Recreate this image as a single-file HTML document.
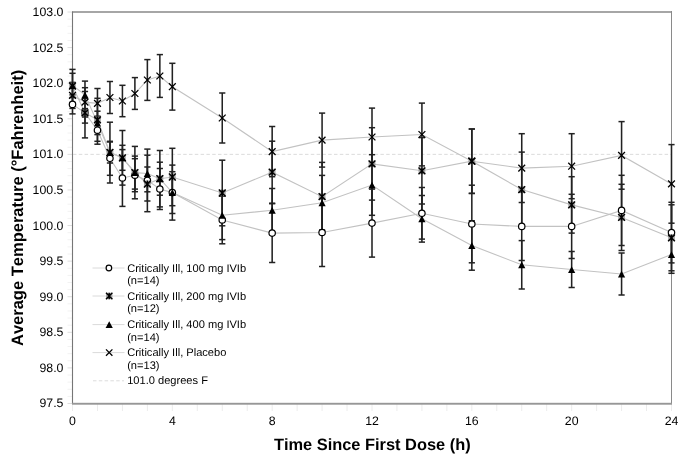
<!DOCTYPE html>
<html><head><meta charset="utf-8"><style>
html,body{margin:0;padding:0;background:#fff;width:685px;height:460px;overflow:hidden}
svg{display:block;will-change:transform}
text{font-family:"Liberation Sans",sans-serif;fill:#000;font-kerning:none;white-space:pre;text-rendering:geometricPrecision}
.tk{font-size:12.3px}
.lg{font-size:11.1px}
.ti{font-size:16.4px;font-weight:bold}
.tiy{font-size:16.5px;font-weight:bold}
</style></head><body>
<svg width="685" height="460" viewBox="0 0 685 460">
<rect width="685" height="460" fill="#fff"/>
<line x1="67.5" y1="403.49" x2="72" y2="403.49" stroke="#dedede" stroke-width="1"/>
<line x1="67.5" y1="396.37" x2="72" y2="396.37" stroke="#f2f2f2" stroke-width="1"/>
<line x1="67.5" y1="389.25" x2="72" y2="389.25" stroke="#f2f2f2" stroke-width="1"/>
<line x1="67.5" y1="382.14" x2="72" y2="382.14" stroke="#f2f2f2" stroke-width="1"/>
<line x1="67.5" y1="375.02" x2="72" y2="375.02" stroke="#f2f2f2" stroke-width="1"/>
<line x1="67.5" y1="367.90" x2="72" y2="367.90" stroke="#dedede" stroke-width="1"/>
<line x1="67.5" y1="360.78" x2="72" y2="360.78" stroke="#f2f2f2" stroke-width="1"/>
<line x1="67.5" y1="353.66" x2="72" y2="353.66" stroke="#f2f2f2" stroke-width="1"/>
<line x1="67.5" y1="346.55" x2="72" y2="346.55" stroke="#f2f2f2" stroke-width="1"/>
<line x1="67.5" y1="339.43" x2="72" y2="339.43" stroke="#f2f2f2" stroke-width="1"/>
<line x1="67.5" y1="332.31" x2="72" y2="332.31" stroke="#dedede" stroke-width="1"/>
<line x1="67.5" y1="325.19" x2="72" y2="325.19" stroke="#f2f2f2" stroke-width="1"/>
<line x1="67.5" y1="318.07" x2="72" y2="318.07" stroke="#f2f2f2" stroke-width="1"/>
<line x1="67.5" y1="310.96" x2="72" y2="310.96" stroke="#f2f2f2" stroke-width="1"/>
<line x1="67.5" y1="303.84" x2="72" y2="303.84" stroke="#f2f2f2" stroke-width="1"/>
<line x1="67.5" y1="296.72" x2="72" y2="296.72" stroke="#dedede" stroke-width="1"/>
<line x1="67.5" y1="289.60" x2="72" y2="289.60" stroke="#f2f2f2" stroke-width="1"/>
<line x1="67.5" y1="282.48" x2="72" y2="282.48" stroke="#f2f2f2" stroke-width="1"/>
<line x1="67.5" y1="275.37" x2="72" y2="275.37" stroke="#f2f2f2" stroke-width="1"/>
<line x1="67.5" y1="268.25" x2="72" y2="268.25" stroke="#f2f2f2" stroke-width="1"/>
<line x1="67.5" y1="261.13" x2="72" y2="261.13" stroke="#dedede" stroke-width="1"/>
<line x1="67.5" y1="254.01" x2="72" y2="254.01" stroke="#f2f2f2" stroke-width="1"/>
<line x1="67.5" y1="246.89" x2="72" y2="246.89" stroke="#f2f2f2" stroke-width="1"/>
<line x1="67.5" y1="239.78" x2="72" y2="239.78" stroke="#f2f2f2" stroke-width="1"/>
<line x1="67.5" y1="232.66" x2="72" y2="232.66" stroke="#f2f2f2" stroke-width="1"/>
<line x1="67.5" y1="225.54" x2="72" y2="225.54" stroke="#dedede" stroke-width="1"/>
<line x1="67.5" y1="218.42" x2="72" y2="218.42" stroke="#f2f2f2" stroke-width="1"/>
<line x1="67.5" y1="211.30" x2="72" y2="211.30" stroke="#f2f2f2" stroke-width="1"/>
<line x1="67.5" y1="204.19" x2="72" y2="204.19" stroke="#f2f2f2" stroke-width="1"/>
<line x1="67.5" y1="197.07" x2="72" y2="197.07" stroke="#f2f2f2" stroke-width="1"/>
<line x1="67.5" y1="189.95" x2="72" y2="189.95" stroke="#dedede" stroke-width="1"/>
<line x1="67.5" y1="182.83" x2="72" y2="182.83" stroke="#f2f2f2" stroke-width="1"/>
<line x1="67.5" y1="175.71" x2="72" y2="175.71" stroke="#f2f2f2" stroke-width="1"/>
<line x1="67.5" y1="168.60" x2="72" y2="168.60" stroke="#f2f2f2" stroke-width="1"/>
<line x1="67.5" y1="161.48" x2="72" y2="161.48" stroke="#f2f2f2" stroke-width="1"/>
<line x1="67.5" y1="154.36" x2="72" y2="154.36" stroke="#dedede" stroke-width="1"/>
<line x1="67.5" y1="147.24" x2="72" y2="147.24" stroke="#f2f2f2" stroke-width="1"/>
<line x1="67.5" y1="140.12" x2="72" y2="140.12" stroke="#f2f2f2" stroke-width="1"/>
<line x1="67.5" y1="133.01" x2="72" y2="133.01" stroke="#f2f2f2" stroke-width="1"/>
<line x1="67.5" y1="125.89" x2="72" y2="125.89" stroke="#f2f2f2" stroke-width="1"/>
<line x1="67.5" y1="118.77" x2="72" y2="118.77" stroke="#dedede" stroke-width="1"/>
<line x1="67.5" y1="111.65" x2="72" y2="111.65" stroke="#f2f2f2" stroke-width="1"/>
<line x1="67.5" y1="104.53" x2="72" y2="104.53" stroke="#f2f2f2" stroke-width="1"/>
<line x1="67.5" y1="97.42" x2="72" y2="97.42" stroke="#f2f2f2" stroke-width="1"/>
<line x1="67.5" y1="90.30" x2="72" y2="90.30" stroke="#f2f2f2" stroke-width="1"/>
<line x1="67.5" y1="83.18" x2="72" y2="83.18" stroke="#dedede" stroke-width="1"/>
<line x1="67.5" y1="76.06" x2="72" y2="76.06" stroke="#f2f2f2" stroke-width="1"/>
<line x1="67.5" y1="68.94" x2="72" y2="68.94" stroke="#f2f2f2" stroke-width="1"/>
<line x1="67.5" y1="61.83" x2="72" y2="61.83" stroke="#f2f2f2" stroke-width="1"/>
<line x1="67.5" y1="54.71" x2="72" y2="54.71" stroke="#f2f2f2" stroke-width="1"/>
<line x1="67.5" y1="47.59" x2="72" y2="47.59" stroke="#dedede" stroke-width="1"/>
<line x1="67.5" y1="40.47" x2="72" y2="40.47" stroke="#f2f2f2" stroke-width="1"/>
<line x1="67.5" y1="33.35" x2="72" y2="33.35" stroke="#f2f2f2" stroke-width="1"/>
<line x1="67.5" y1="26.24" x2="72" y2="26.24" stroke="#f2f2f2" stroke-width="1"/>
<line x1="67.5" y1="19.12" x2="72" y2="19.12" stroke="#f2f2f2" stroke-width="1"/>
<line x1="67.5" y1="12.00" x2="72" y2="12.00" stroke="#dedede" stroke-width="1"/>
<line x1="72.50" y1="404" x2="72.50" y2="411" stroke="#ececec" stroke-width="1"/>
<line x1="97.46" y1="404" x2="97.46" y2="411" stroke="#ececec" stroke-width="1"/>
<line x1="122.42" y1="404" x2="122.42" y2="411" stroke="#ececec" stroke-width="1"/>
<line x1="147.37" y1="404" x2="147.37" y2="411" stroke="#ececec" stroke-width="1"/>
<line x1="172.33" y1="404" x2="172.33" y2="411" stroke="#ececec" stroke-width="1"/>
<line x1="197.29" y1="404" x2="197.29" y2="411" stroke="#ececec" stroke-width="1"/>
<line x1="222.25" y1="404" x2="222.25" y2="411" stroke="#ececec" stroke-width="1"/>
<line x1="247.21" y1="404" x2="247.21" y2="411" stroke="#ececec" stroke-width="1"/>
<line x1="272.16" y1="404" x2="272.16" y2="411" stroke="#ececec" stroke-width="1"/>
<line x1="297.12" y1="404" x2="297.12" y2="411" stroke="#ececec" stroke-width="1"/>
<line x1="322.08" y1="404" x2="322.08" y2="411" stroke="#ececec" stroke-width="1"/>
<line x1="347.04" y1="404" x2="347.04" y2="411" stroke="#ececec" stroke-width="1"/>
<line x1="372.00" y1="404" x2="372.00" y2="411" stroke="#ececec" stroke-width="1"/>
<line x1="396.95" y1="404" x2="396.95" y2="411" stroke="#ececec" stroke-width="1"/>
<line x1="421.91" y1="404" x2="421.91" y2="411" stroke="#ececec" stroke-width="1"/>
<line x1="446.87" y1="404" x2="446.87" y2="411" stroke="#ececec" stroke-width="1"/>
<line x1="471.83" y1="404" x2="471.83" y2="411" stroke="#ececec" stroke-width="1"/>
<line x1="496.79" y1="404" x2="496.79" y2="411" stroke="#ececec" stroke-width="1"/>
<line x1="521.74" y1="404" x2="521.74" y2="411" stroke="#ececec" stroke-width="1"/>
<line x1="546.70" y1="404" x2="546.70" y2="411" stroke="#ececec" stroke-width="1"/>
<line x1="571.66" y1="404" x2="571.66" y2="411" stroke="#ececec" stroke-width="1"/>
<line x1="596.62" y1="404" x2="596.62" y2="411" stroke="#ececec" stroke-width="1"/>
<line x1="621.58" y1="404" x2="621.58" y2="411" stroke="#ececec" stroke-width="1"/>
<line x1="646.53" y1="404" x2="646.53" y2="411" stroke="#ececec" stroke-width="1"/>
<line x1="671.49" y1="404" x2="671.49" y2="411" stroke="#ececec" stroke-width="1"/>
<rect x="72" y="11" width="600" height="2" fill="#a6a6a6"/>
<rect x="671" y="11" width="1" height="393" fill="#8a8a8a"/>
<line x1="72.5" y1="11.5" x2="72.5" y2="404" stroke="#767676" stroke-width="1.1"/>
<rect x="72" y="402.8" width="600" height="1.9" fill="#979797"/>
<line x1="73" y1="154.36" x2="671" y2="154.36" stroke="#dcdcdc" stroke-width="1" stroke-dasharray="3.5,2.3"/>
<polyline points="72.50,104.40 84.98,112.80 97.46,130.20 109.94,158.30 122.42,178.00 134.89,175.20 147.37,180.40 159.85,189.00 172.33,192.60 222.25,220.00 272.16,233.10 322.08,232.50 372.00,223.10 421.91,213.30 471.83,224.00 521.74,226.40 571.66,226.40 621.58,210.40 671.49,232.60" fill="none" stroke="#c2c2c2" stroke-width="1.1"/>
<polyline points="72.50,86.00 84.98,112.80 97.46,119.80 109.94,152.50 122.42,157.80 134.89,172.60 147.37,184.00 159.85,178.70 172.33,177.00 222.25,193.00 272.16,172.20 322.08,196.70 372.00,163.90 421.91,170.80 471.83,161.20 521.74,189.60 571.66,204.90 621.58,217.40 671.49,237.80" fill="none" stroke="#c2c2c2" stroke-width="1.1"/>
<polyline points="72.50,85.40 84.98,94.90 97.46,122.90 109.94,152.60 122.42,157.80 134.89,172.60 147.37,173.50 159.85,178.70 172.33,192.60 222.25,215.20 272.16,210.30 322.08,202.70 372.00,185.00 421.91,218.80 471.83,245.50 521.74,264.80 571.66,269.50 621.58,274.00 671.49,254.50" fill="none" stroke="#c2c2c2" stroke-width="1.1"/>
<polyline points="72.50,95.40 84.98,102.10 97.46,103.40 109.94,97.50 122.42,101.00 134.89,93.50 147.37,80.00 159.85,76.00 172.33,86.70 222.25,118.00 272.16,151.60 322.08,140.10 372.00,137.00 421.91,134.50 471.83,161.20 521.74,168.10 571.66,166.20 621.58,155.40 671.49,183.90" fill="none" stroke="#c2c2c2" stroke-width="1.1"/>
<line x1="72.50" y1="94.90" x2="72.50" y2="113.90" stroke="#222" stroke-width="1.55"/>
<line x1="69.40" y1="94.90" x2="75.60" y2="94.90" stroke="#222" stroke-width="1.5"/>
<line x1="69.40" y1="113.90" x2="75.60" y2="113.90" stroke="#222" stroke-width="1.5"/>
<line x1="84.98" y1="108.60" x2="84.98" y2="117.00" stroke="#222" stroke-width="1.55"/>
<line x1="81.88" y1="108.60" x2="88.08" y2="108.60" stroke="#222" stroke-width="1.5"/>
<line x1="81.88" y1="117.00" x2="88.08" y2="117.00" stroke="#222" stroke-width="1.5"/>
<line x1="97.46" y1="116.20" x2="97.46" y2="144.20" stroke="#222" stroke-width="1.55"/>
<line x1="94.36" y1="116.20" x2="100.56" y2="116.20" stroke="#222" stroke-width="1.5"/>
<line x1="94.36" y1="144.20" x2="100.56" y2="144.20" stroke="#222" stroke-width="1.5"/>
<line x1="109.94" y1="141.30" x2="109.94" y2="175.30" stroke="#222" stroke-width="1.55"/>
<line x1="106.84" y1="141.30" x2="113.04" y2="141.30" stroke="#222" stroke-width="1.5"/>
<line x1="106.84" y1="175.30" x2="113.04" y2="175.30" stroke="#222" stroke-width="1.5"/>
<line x1="122.42" y1="149.60" x2="122.42" y2="206.40" stroke="#222" stroke-width="1.55"/>
<line x1="119.32" y1="149.60" x2="125.52" y2="149.60" stroke="#222" stroke-width="1.5"/>
<line x1="119.32" y1="206.40" x2="125.52" y2="206.40" stroke="#222" stroke-width="1.5"/>
<line x1="134.89" y1="158.70" x2="134.89" y2="191.70" stroke="#222" stroke-width="1.55"/>
<line x1="131.79" y1="158.70" x2="137.99" y2="158.70" stroke="#222" stroke-width="1.5"/>
<line x1="131.79" y1="191.70" x2="137.99" y2="191.70" stroke="#222" stroke-width="1.5"/>
<line x1="147.37" y1="149.10" x2="147.37" y2="211.70" stroke="#222" stroke-width="1.55"/>
<line x1="144.27" y1="149.10" x2="150.47" y2="149.10" stroke="#222" stroke-width="1.5"/>
<line x1="144.27" y1="211.70" x2="150.47" y2="211.70" stroke="#222" stroke-width="1.5"/>
<line x1="159.85" y1="168.50" x2="159.85" y2="209.50" stroke="#222" stroke-width="1.55"/>
<line x1="156.75" y1="168.50" x2="162.95" y2="168.50" stroke="#222" stroke-width="1.5"/>
<line x1="156.75" y1="209.50" x2="162.95" y2="209.50" stroke="#222" stroke-width="1.5"/>
<line x1="172.33" y1="165.10" x2="172.33" y2="220.10" stroke="#222" stroke-width="1.55"/>
<line x1="169.23" y1="165.10" x2="175.43" y2="165.10" stroke="#222" stroke-width="1.5"/>
<line x1="169.23" y1="220.10" x2="175.43" y2="220.10" stroke="#222" stroke-width="1.5"/>
<line x1="222.25" y1="196.20" x2="222.25" y2="243.80" stroke="#222" stroke-width="1.55"/>
<line x1="219.15" y1="196.20" x2="225.35" y2="196.20" stroke="#222" stroke-width="1.5"/>
<line x1="219.15" y1="243.80" x2="225.35" y2="243.80" stroke="#222" stroke-width="1.5"/>
<line x1="272.16" y1="203.70" x2="272.16" y2="262.50" stroke="#222" stroke-width="1.55"/>
<line x1="269.06" y1="203.70" x2="275.26" y2="203.70" stroke="#222" stroke-width="1.5"/>
<line x1="269.06" y1="262.50" x2="275.26" y2="262.50" stroke="#222" stroke-width="1.5"/>
<line x1="322.08" y1="198.50" x2="322.08" y2="266.50" stroke="#222" stroke-width="1.55"/>
<line x1="318.98" y1="198.50" x2="325.18" y2="198.50" stroke="#222" stroke-width="1.5"/>
<line x1="318.98" y1="266.50" x2="325.18" y2="266.50" stroke="#222" stroke-width="1.5"/>
<line x1="372.00" y1="189.10" x2="372.00" y2="257.10" stroke="#222" stroke-width="1.55"/>
<line x1="368.90" y1="189.10" x2="375.10" y2="189.10" stroke="#222" stroke-width="1.5"/>
<line x1="368.90" y1="257.10" x2="375.10" y2="257.10" stroke="#222" stroke-width="1.5"/>
<line x1="421.91" y1="187.50" x2="421.91" y2="239.10" stroke="#222" stroke-width="1.55"/>
<line x1="418.81" y1="187.50" x2="425.01" y2="187.50" stroke="#222" stroke-width="1.5"/>
<line x1="418.81" y1="239.10" x2="425.01" y2="239.10" stroke="#222" stroke-width="1.5"/>
<line x1="471.83" y1="185.20" x2="471.83" y2="262.80" stroke="#222" stroke-width="1.55"/>
<line x1="468.73" y1="185.20" x2="474.93" y2="185.20" stroke="#222" stroke-width="1.5"/>
<line x1="468.73" y1="262.80" x2="474.93" y2="262.80" stroke="#222" stroke-width="1.5"/>
<line x1="521.74" y1="192.30" x2="521.74" y2="260.50" stroke="#222" stroke-width="1.55"/>
<line x1="518.64" y1="192.30" x2="524.84" y2="192.30" stroke="#222" stroke-width="1.5"/>
<line x1="518.64" y1="260.50" x2="524.84" y2="260.50" stroke="#222" stroke-width="1.5"/>
<line x1="571.66" y1="194.30" x2="571.66" y2="258.50" stroke="#222" stroke-width="1.55"/>
<line x1="568.56" y1="194.30" x2="574.76" y2="194.30" stroke="#222" stroke-width="1.5"/>
<line x1="568.56" y1="258.50" x2="574.76" y2="258.50" stroke="#222" stroke-width="1.5"/>
<line x1="621.58" y1="175.30" x2="621.58" y2="245.50" stroke="#222" stroke-width="1.55"/>
<line x1="618.48" y1="175.30" x2="624.68" y2="175.30" stroke="#222" stroke-width="1.5"/>
<line x1="618.48" y1="245.50" x2="624.68" y2="245.50" stroke="#222" stroke-width="1.5"/>
<line x1="671.49" y1="202.30" x2="671.49" y2="262.90" stroke="#222" stroke-width="1.55"/>
<line x1="668.39" y1="202.30" x2="674.59" y2="202.30" stroke="#222" stroke-width="1.5"/>
<line x1="668.39" y1="262.90" x2="674.59" y2="262.90" stroke="#222" stroke-width="1.5"/>
<line x1="72.50" y1="69.40" x2="72.50" y2="102.60" stroke="#222" stroke-width="1.55"/>
<line x1="69.40" y1="69.40" x2="75.60" y2="69.40" stroke="#222" stroke-width="1.5"/>
<line x1="69.40" y1="102.60" x2="75.60" y2="102.60" stroke="#222" stroke-width="1.5"/>
<line x1="84.98" y1="87.70" x2="84.98" y2="137.90" stroke="#222" stroke-width="1.55"/>
<line x1="81.88" y1="87.70" x2="88.08" y2="87.70" stroke="#222" stroke-width="1.5"/>
<line x1="81.88" y1="137.90" x2="88.08" y2="137.90" stroke="#222" stroke-width="1.5"/>
<line x1="97.46" y1="98.30" x2="97.46" y2="141.30" stroke="#222" stroke-width="1.55"/>
<line x1="94.36" y1="98.30" x2="100.56" y2="98.30" stroke="#222" stroke-width="1.5"/>
<line x1="94.36" y1="141.30" x2="100.56" y2="141.30" stroke="#222" stroke-width="1.5"/>
<line x1="109.94" y1="142.00" x2="109.94" y2="163.00" stroke="#222" stroke-width="1.55"/>
<line x1="106.84" y1="142.00" x2="113.04" y2="142.00" stroke="#222" stroke-width="1.5"/>
<line x1="106.84" y1="163.00" x2="113.04" y2="163.00" stroke="#222" stroke-width="1.5"/>
<line x1="122.42" y1="145.30" x2="122.42" y2="170.30" stroke="#222" stroke-width="1.55"/>
<line x1="119.32" y1="145.30" x2="125.52" y2="145.30" stroke="#222" stroke-width="1.5"/>
<line x1="119.32" y1="170.30" x2="125.52" y2="170.30" stroke="#222" stroke-width="1.5"/>
<line x1="134.89" y1="156.10" x2="134.89" y2="189.10" stroke="#222" stroke-width="1.55"/>
<line x1="131.79" y1="156.10" x2="137.99" y2="156.10" stroke="#222" stroke-width="1.5"/>
<line x1="131.79" y1="189.10" x2="137.99" y2="189.10" stroke="#222" stroke-width="1.5"/>
<line x1="147.37" y1="167.00" x2="147.37" y2="201.00" stroke="#222" stroke-width="1.55"/>
<line x1="144.27" y1="167.00" x2="150.47" y2="167.00" stroke="#222" stroke-width="1.5"/>
<line x1="144.27" y1="201.00" x2="150.47" y2="201.00" stroke="#222" stroke-width="1.5"/>
<line x1="159.85" y1="162.20" x2="159.85" y2="195.20" stroke="#222" stroke-width="1.55"/>
<line x1="156.75" y1="162.20" x2="162.95" y2="162.20" stroke="#222" stroke-width="1.5"/>
<line x1="156.75" y1="195.20" x2="162.95" y2="195.20" stroke="#222" stroke-width="1.5"/>
<line x1="172.33" y1="148.30" x2="172.33" y2="205.70" stroke="#222" stroke-width="1.55"/>
<line x1="169.23" y1="148.30" x2="175.43" y2="148.30" stroke="#222" stroke-width="1.5"/>
<line x1="169.23" y1="205.70" x2="175.43" y2="205.70" stroke="#222" stroke-width="1.5"/>
<line x1="222.25" y1="160.20" x2="222.25" y2="225.80" stroke="#222" stroke-width="1.55"/>
<line x1="219.15" y1="160.20" x2="225.35" y2="160.20" stroke="#222" stroke-width="1.5"/>
<line x1="219.15" y1="225.80" x2="225.35" y2="225.80" stroke="#222" stroke-width="1.5"/>
<line x1="272.16" y1="141.20" x2="272.16" y2="203.20" stroke="#222" stroke-width="1.55"/>
<line x1="269.06" y1="141.20" x2="275.26" y2="141.20" stroke="#222" stroke-width="1.5"/>
<line x1="269.06" y1="203.20" x2="275.26" y2="203.20" stroke="#222" stroke-width="1.5"/>
<line x1="322.08" y1="162.40" x2="322.08" y2="231.00" stroke="#222" stroke-width="1.55"/>
<line x1="318.98" y1="162.40" x2="325.18" y2="162.40" stroke="#222" stroke-width="1.5"/>
<line x1="318.98" y1="231.00" x2="325.18" y2="231.00" stroke="#222" stroke-width="1.5"/>
<line x1="372.00" y1="127.70" x2="372.00" y2="200.10" stroke="#222" stroke-width="1.55"/>
<line x1="368.90" y1="127.70" x2="375.10" y2="127.70" stroke="#222" stroke-width="1.5"/>
<line x1="368.90" y1="200.10" x2="375.10" y2="200.10" stroke="#222" stroke-width="1.5"/>
<line x1="421.91" y1="137.60" x2="421.91" y2="204.00" stroke="#222" stroke-width="1.55"/>
<line x1="418.81" y1="137.60" x2="425.01" y2="137.60" stroke="#222" stroke-width="1.5"/>
<line x1="418.81" y1="204.00" x2="425.01" y2="204.00" stroke="#222" stroke-width="1.5"/>
<line x1="471.83" y1="129.00" x2="471.83" y2="193.40" stroke="#222" stroke-width="1.55"/>
<line x1="468.73" y1="129.00" x2="474.93" y2="129.00" stroke="#222" stroke-width="1.5"/>
<line x1="468.73" y1="193.40" x2="474.93" y2="193.40" stroke="#222" stroke-width="1.5"/>
<line x1="521.74" y1="152.10" x2="521.74" y2="227.10" stroke="#222" stroke-width="1.55"/>
<line x1="518.64" y1="152.10" x2="524.84" y2="152.10" stroke="#222" stroke-width="1.5"/>
<line x1="518.64" y1="227.10" x2="524.84" y2="227.10" stroke="#222" stroke-width="1.5"/>
<line x1="571.66" y1="176.70" x2="571.66" y2="233.10" stroke="#222" stroke-width="1.55"/>
<line x1="568.56" y1="176.70" x2="574.76" y2="176.70" stroke="#222" stroke-width="1.5"/>
<line x1="568.56" y1="233.10" x2="574.76" y2="233.10" stroke="#222" stroke-width="1.5"/>
<line x1="621.58" y1="184.30" x2="621.58" y2="250.50" stroke="#222" stroke-width="1.55"/>
<line x1="618.48" y1="184.30" x2="624.68" y2="184.30" stroke="#222" stroke-width="1.5"/>
<line x1="618.48" y1="250.50" x2="624.68" y2="250.50" stroke="#222" stroke-width="1.5"/>
<line x1="671.49" y1="204.80" x2="671.49" y2="270.80" stroke="#222" stroke-width="1.55"/>
<line x1="668.39" y1="204.80" x2="674.59" y2="204.80" stroke="#222" stroke-width="1.5"/>
<line x1="668.39" y1="270.80" x2="674.59" y2="270.80" stroke="#222" stroke-width="1.5"/>
<line x1="72.50" y1="73.30" x2="72.50" y2="97.50" stroke="#222" stroke-width="1.55"/>
<line x1="69.40" y1="73.30" x2="75.60" y2="73.30" stroke="#222" stroke-width="1.5"/>
<line x1="69.40" y1="97.50" x2="75.60" y2="97.50" stroke="#222" stroke-width="1.5"/>
<line x1="84.98" y1="91.50" x2="84.98" y2="98.30" stroke="#222" stroke-width="1.55"/>
<line x1="81.88" y1="91.50" x2="88.08" y2="91.50" stroke="#222" stroke-width="1.5"/>
<line x1="81.88" y1="98.30" x2="88.08" y2="98.30" stroke="#222" stroke-width="1.5"/>
<line x1="97.46" y1="111.20" x2="97.46" y2="134.60" stroke="#222" stroke-width="1.55"/>
<line x1="94.36" y1="111.20" x2="100.56" y2="111.20" stroke="#222" stroke-width="1.5"/>
<line x1="94.36" y1="134.60" x2="100.56" y2="134.60" stroke="#222" stroke-width="1.5"/>
<line x1="109.94" y1="122.20" x2="109.94" y2="183.00" stroke="#222" stroke-width="1.55"/>
<line x1="106.84" y1="122.20" x2="113.04" y2="122.20" stroke="#222" stroke-width="1.5"/>
<line x1="106.84" y1="183.00" x2="113.04" y2="183.00" stroke="#222" stroke-width="1.5"/>
<line x1="122.42" y1="130.50" x2="122.42" y2="185.10" stroke="#222" stroke-width="1.55"/>
<line x1="119.32" y1="130.50" x2="125.52" y2="130.50" stroke="#222" stroke-width="1.5"/>
<line x1="119.32" y1="185.10" x2="125.52" y2="185.10" stroke="#222" stroke-width="1.5"/>
<line x1="134.89" y1="146.40" x2="134.89" y2="198.80" stroke="#222" stroke-width="1.55"/>
<line x1="131.79" y1="146.40" x2="137.99" y2="146.40" stroke="#222" stroke-width="1.5"/>
<line x1="131.79" y1="198.80" x2="137.99" y2="198.80" stroke="#222" stroke-width="1.5"/>
<line x1="147.37" y1="155.20" x2="147.37" y2="191.80" stroke="#222" stroke-width="1.55"/>
<line x1="144.27" y1="155.20" x2="150.47" y2="155.20" stroke="#222" stroke-width="1.5"/>
<line x1="144.27" y1="191.80" x2="150.47" y2="191.80" stroke="#222" stroke-width="1.5"/>
<line x1="159.85" y1="150.50" x2="159.85" y2="206.90" stroke="#222" stroke-width="1.55"/>
<line x1="156.75" y1="150.50" x2="162.95" y2="150.50" stroke="#222" stroke-width="1.5"/>
<line x1="156.75" y1="206.90" x2="162.95" y2="206.90" stroke="#222" stroke-width="1.5"/>
<line x1="172.33" y1="171.70" x2="172.33" y2="213.50" stroke="#222" stroke-width="1.55"/>
<line x1="169.23" y1="171.70" x2="175.43" y2="171.70" stroke="#222" stroke-width="1.5"/>
<line x1="169.23" y1="213.50" x2="175.43" y2="213.50" stroke="#222" stroke-width="1.5"/>
<line x1="222.25" y1="190.80" x2="222.25" y2="239.60" stroke="#222" stroke-width="1.55"/>
<line x1="219.15" y1="190.80" x2="225.35" y2="190.80" stroke="#222" stroke-width="1.5"/>
<line x1="219.15" y1="239.60" x2="225.35" y2="239.60" stroke="#222" stroke-width="1.5"/>
<line x1="272.16" y1="188.50" x2="272.16" y2="232.10" stroke="#222" stroke-width="1.55"/>
<line x1="269.06" y1="188.50" x2="275.26" y2="188.50" stroke="#222" stroke-width="1.5"/>
<line x1="269.06" y1="232.10" x2="275.26" y2="232.10" stroke="#222" stroke-width="1.5"/>
<line x1="322.08" y1="175.40" x2="322.08" y2="230.00" stroke="#222" stroke-width="1.55"/>
<line x1="318.98" y1="175.40" x2="325.18" y2="175.40" stroke="#222" stroke-width="1.5"/>
<line x1="318.98" y1="230.00" x2="325.18" y2="230.00" stroke="#222" stroke-width="1.5"/>
<line x1="372.00" y1="154.70" x2="372.00" y2="215.30" stroke="#222" stroke-width="1.55"/>
<line x1="368.90" y1="154.70" x2="375.10" y2="154.70" stroke="#222" stroke-width="1.5"/>
<line x1="368.90" y1="215.30" x2="375.10" y2="215.30" stroke="#222" stroke-width="1.5"/>
<line x1="421.91" y1="195.50" x2="421.91" y2="242.10" stroke="#222" stroke-width="1.55"/>
<line x1="418.81" y1="195.50" x2="425.01" y2="195.50" stroke="#222" stroke-width="1.5"/>
<line x1="418.81" y1="242.10" x2="425.01" y2="242.10" stroke="#222" stroke-width="1.5"/>
<line x1="471.83" y1="220.80" x2="471.83" y2="270.20" stroke="#222" stroke-width="1.55"/>
<line x1="468.73" y1="220.80" x2="474.93" y2="220.80" stroke="#222" stroke-width="1.5"/>
<line x1="468.73" y1="270.20" x2="474.93" y2="270.20" stroke="#222" stroke-width="1.5"/>
<line x1="521.74" y1="240.60" x2="521.74" y2="289.00" stroke="#222" stroke-width="1.55"/>
<line x1="518.64" y1="240.60" x2="524.84" y2="240.60" stroke="#222" stroke-width="1.5"/>
<line x1="518.64" y1="289.00" x2="524.84" y2="289.00" stroke="#222" stroke-width="1.5"/>
<line x1="571.66" y1="251.50" x2="571.66" y2="287.50" stroke="#222" stroke-width="1.55"/>
<line x1="568.56" y1="251.50" x2="574.76" y2="251.50" stroke="#222" stroke-width="1.5"/>
<line x1="568.56" y1="287.50" x2="574.76" y2="287.50" stroke="#222" stroke-width="1.5"/>
<line x1="621.58" y1="253.00" x2="621.58" y2="295.00" stroke="#222" stroke-width="1.55"/>
<line x1="618.48" y1="253.00" x2="624.68" y2="253.00" stroke="#222" stroke-width="1.5"/>
<line x1="618.48" y1="295.00" x2="624.68" y2="295.00" stroke="#222" stroke-width="1.5"/>
<line x1="671.49" y1="235.70" x2="671.49" y2="273.30" stroke="#222" stroke-width="1.55"/>
<line x1="668.39" y1="235.70" x2="674.59" y2="235.70" stroke="#222" stroke-width="1.5"/>
<line x1="668.39" y1="273.30" x2="674.59" y2="273.30" stroke="#222" stroke-width="1.5"/>
<line x1="72.50" y1="82.40" x2="72.50" y2="108.40" stroke="#222" stroke-width="1.55"/>
<line x1="69.40" y1="82.40" x2="75.60" y2="82.40" stroke="#222" stroke-width="1.5"/>
<line x1="69.40" y1="108.40" x2="75.60" y2="108.40" stroke="#222" stroke-width="1.5"/>
<line x1="84.98" y1="81.10" x2="84.98" y2="123.10" stroke="#222" stroke-width="1.55"/>
<line x1="81.88" y1="81.10" x2="88.08" y2="81.10" stroke="#222" stroke-width="1.5"/>
<line x1="81.88" y1="123.10" x2="88.08" y2="123.10" stroke="#222" stroke-width="1.5"/>
<line x1="97.46" y1="88.50" x2="97.46" y2="118.30" stroke="#222" stroke-width="1.55"/>
<line x1="94.36" y1="88.50" x2="100.56" y2="88.50" stroke="#222" stroke-width="1.5"/>
<line x1="94.36" y1="118.30" x2="100.56" y2="118.30" stroke="#222" stroke-width="1.5"/>
<line x1="109.94" y1="81.50" x2="109.94" y2="113.50" stroke="#222" stroke-width="1.55"/>
<line x1="106.84" y1="81.50" x2="113.04" y2="81.50" stroke="#222" stroke-width="1.5"/>
<line x1="106.84" y1="113.50" x2="113.04" y2="113.50" stroke="#222" stroke-width="1.5"/>
<line x1="122.42" y1="85.30" x2="122.42" y2="116.70" stroke="#222" stroke-width="1.55"/>
<line x1="119.32" y1="85.30" x2="125.52" y2="85.30" stroke="#222" stroke-width="1.5"/>
<line x1="119.32" y1="116.70" x2="125.52" y2="116.70" stroke="#222" stroke-width="1.5"/>
<line x1="134.89" y1="77.60" x2="134.89" y2="109.40" stroke="#222" stroke-width="1.55"/>
<line x1="131.79" y1="77.60" x2="137.99" y2="77.60" stroke="#222" stroke-width="1.5"/>
<line x1="131.79" y1="109.40" x2="137.99" y2="109.40" stroke="#222" stroke-width="1.5"/>
<line x1="147.37" y1="59.60" x2="147.37" y2="100.40" stroke="#222" stroke-width="1.55"/>
<line x1="144.27" y1="59.60" x2="150.47" y2="59.60" stroke="#222" stroke-width="1.5"/>
<line x1="144.27" y1="100.40" x2="150.47" y2="100.40" stroke="#222" stroke-width="1.5"/>
<line x1="159.85" y1="54.60" x2="159.85" y2="97.40" stroke="#222" stroke-width="1.55"/>
<line x1="156.75" y1="54.60" x2="162.95" y2="54.60" stroke="#222" stroke-width="1.5"/>
<line x1="156.75" y1="97.40" x2="162.95" y2="97.40" stroke="#222" stroke-width="1.5"/>
<line x1="172.33" y1="63.30" x2="172.33" y2="110.10" stroke="#222" stroke-width="1.55"/>
<line x1="169.23" y1="63.30" x2="175.43" y2="63.30" stroke="#222" stroke-width="1.5"/>
<line x1="169.23" y1="110.10" x2="175.43" y2="110.10" stroke="#222" stroke-width="1.5"/>
<line x1="222.25" y1="93.00" x2="222.25" y2="143.00" stroke="#222" stroke-width="1.55"/>
<line x1="219.15" y1="93.00" x2="225.35" y2="93.00" stroke="#222" stroke-width="1.5"/>
<line x1="219.15" y1="143.00" x2="225.35" y2="143.00" stroke="#222" stroke-width="1.5"/>
<line x1="272.16" y1="126.50" x2="272.16" y2="176.70" stroke="#222" stroke-width="1.55"/>
<line x1="269.06" y1="126.50" x2="275.26" y2="126.50" stroke="#222" stroke-width="1.5"/>
<line x1="269.06" y1="176.70" x2="275.26" y2="176.70" stroke="#222" stroke-width="1.5"/>
<line x1="322.08" y1="113.10" x2="322.08" y2="167.10" stroke="#222" stroke-width="1.55"/>
<line x1="318.98" y1="113.10" x2="325.18" y2="113.10" stroke="#222" stroke-width="1.5"/>
<line x1="318.98" y1="167.10" x2="325.18" y2="167.10" stroke="#222" stroke-width="1.5"/>
<line x1="372.00" y1="108.10" x2="372.00" y2="165.90" stroke="#222" stroke-width="1.55"/>
<line x1="368.90" y1="108.10" x2="375.10" y2="108.10" stroke="#222" stroke-width="1.5"/>
<line x1="368.90" y1="165.90" x2="375.10" y2="165.90" stroke="#222" stroke-width="1.5"/>
<line x1="421.91" y1="103.10" x2="421.91" y2="165.90" stroke="#222" stroke-width="1.55"/>
<line x1="418.81" y1="103.10" x2="425.01" y2="103.10" stroke="#222" stroke-width="1.5"/>
<line x1="418.81" y1="165.90" x2="425.01" y2="165.90" stroke="#222" stroke-width="1.5"/>
<line x1="471.83" y1="129.00" x2="471.83" y2="193.40" stroke="#222" stroke-width="1.55"/>
<line x1="468.73" y1="129.00" x2="474.93" y2="129.00" stroke="#222" stroke-width="1.5"/>
<line x1="468.73" y1="193.40" x2="474.93" y2="193.40" stroke="#222" stroke-width="1.5"/>
<line x1="521.74" y1="133.70" x2="521.74" y2="202.50" stroke="#222" stroke-width="1.55"/>
<line x1="518.64" y1="133.70" x2="524.84" y2="133.70" stroke="#222" stroke-width="1.5"/>
<line x1="518.64" y1="202.50" x2="524.84" y2="202.50" stroke="#222" stroke-width="1.5"/>
<line x1="571.66" y1="133.70" x2="571.66" y2="198.70" stroke="#222" stroke-width="1.55"/>
<line x1="568.56" y1="133.70" x2="574.76" y2="133.70" stroke="#222" stroke-width="1.5"/>
<line x1="568.56" y1="198.70" x2="574.76" y2="198.70" stroke="#222" stroke-width="1.5"/>
<line x1="621.58" y1="121.60" x2="621.58" y2="189.20" stroke="#222" stroke-width="1.55"/>
<line x1="618.48" y1="121.60" x2="624.68" y2="121.60" stroke="#222" stroke-width="1.5"/>
<line x1="618.48" y1="189.20" x2="624.68" y2="189.20" stroke="#222" stroke-width="1.5"/>
<line x1="671.49" y1="144.60" x2="671.49" y2="223.20" stroke="#222" stroke-width="1.55"/>
<line x1="668.39" y1="144.60" x2="674.59" y2="144.60" stroke="#222" stroke-width="1.5"/>
<line x1="668.39" y1="223.20" x2="674.59" y2="223.20" stroke="#222" stroke-width="1.5"/>
<circle cx="72.50" cy="104.40" r="3.2" fill="#fff" stroke="#000" stroke-width="1.2"/>
<circle cx="84.98" cy="112.80" r="3.2" fill="#fff" stroke="#000" stroke-width="1.2"/>
<circle cx="97.46" cy="130.20" r="3.2" fill="#fff" stroke="#000" stroke-width="1.2"/>
<circle cx="109.94" cy="158.30" r="3.2" fill="#fff" stroke="#000" stroke-width="1.2"/>
<circle cx="122.42" cy="178.00" r="3.2" fill="#fff" stroke="#000" stroke-width="1.2"/>
<circle cx="134.89" cy="175.20" r="3.2" fill="#fff" stroke="#000" stroke-width="1.2"/>
<circle cx="147.37" cy="180.40" r="3.2" fill="#fff" stroke="#000" stroke-width="1.2"/>
<circle cx="159.85" cy="189.00" r="3.2" fill="#fff" stroke="#000" stroke-width="1.2"/>
<circle cx="172.33" cy="192.60" r="3.2" fill="#fff" stroke="#000" stroke-width="1.2"/>
<circle cx="222.25" cy="220.00" r="3.2" fill="#fff" stroke="#000" stroke-width="1.2"/>
<circle cx="272.16" cy="233.10" r="3.2" fill="#fff" stroke="#000" stroke-width="1.2"/>
<circle cx="322.08" cy="232.50" r="3.2" fill="#fff" stroke="#000" stroke-width="1.2"/>
<circle cx="372.00" cy="223.10" r="3.2" fill="#fff" stroke="#000" stroke-width="1.2"/>
<circle cx="421.91" cy="213.30" r="3.2" fill="#fff" stroke="#000" stroke-width="1.2"/>
<circle cx="471.83" cy="224.00" r="3.2" fill="#fff" stroke="#000" stroke-width="1.2"/>
<circle cx="521.74" cy="226.40" r="3.2" fill="#fff" stroke="#000" stroke-width="1.2"/>
<circle cx="571.66" cy="226.40" r="3.2" fill="#fff" stroke="#000" stroke-width="1.2"/>
<circle cx="621.58" cy="210.40" r="3.2" fill="#fff" stroke="#000" stroke-width="1.2"/>
<circle cx="671.49" cy="232.60" r="3.2" fill="#fff" stroke="#000" stroke-width="1.2"/>
<rect x="69.10" y="82.60" width="6.80" height="6.80" fill="#888" fill-opacity="0.7"/><path d="M69.10,82.60L75.90,89.40M75.90,82.60L69.10,89.40M72.50,82.60L72.50,89.40" stroke="#000" stroke-width="1.4" fill="none"/>
<rect x="81.58" y="109.40" width="6.80" height="6.80" fill="#888" fill-opacity="0.7"/><path d="M81.58,109.40L88.38,116.20M88.38,109.40L81.58,116.20M84.98,109.40L84.98,116.20" stroke="#000" stroke-width="1.4" fill="none"/>
<rect x="94.06" y="116.40" width="6.80" height="6.80" fill="#888" fill-opacity="0.7"/><path d="M94.06,116.40L100.86,123.20M100.86,116.40L94.06,123.20M97.46,116.40L97.46,123.20" stroke="#000" stroke-width="1.4" fill="none"/>
<rect x="106.54" y="149.10" width="6.80" height="6.80" fill="#888" fill-opacity="0.7"/><path d="M106.54,149.10L113.34,155.90M113.34,149.10L106.54,155.90M109.94,149.10L109.94,155.90" stroke="#000" stroke-width="1.4" fill="none"/>
<rect x="119.02" y="154.40" width="6.80" height="6.80" fill="#888" fill-opacity="0.7"/><path d="M119.02,154.40L125.82,161.20M125.82,154.40L119.02,161.20M122.42,154.40L122.42,161.20" stroke="#000" stroke-width="1.4" fill="none"/>
<rect x="131.49" y="169.20" width="6.80" height="6.80" fill="#888" fill-opacity="0.7"/><path d="M131.49,169.20L138.29,176.00M138.29,169.20L131.49,176.00M134.89,169.20L134.89,176.00" stroke="#000" stroke-width="1.4" fill="none"/>
<rect x="143.97" y="180.60" width="6.80" height="6.80" fill="#888" fill-opacity="0.7"/><path d="M143.97,180.60L150.77,187.40M150.77,180.60L143.97,187.40M147.37,180.60L147.37,187.40" stroke="#000" stroke-width="1.4" fill="none"/>
<rect x="156.45" y="175.30" width="6.80" height="6.80" fill="#888" fill-opacity="0.7"/><path d="M156.45,175.30L163.25,182.10M163.25,175.30L156.45,182.10M159.85,175.30L159.85,182.10" stroke="#000" stroke-width="1.4" fill="none"/>
<rect x="168.93" y="173.60" width="6.80" height="6.80" fill="#888" fill-opacity="0.7"/><path d="M168.93,173.60L175.73,180.40M175.73,173.60L168.93,180.40M172.33,173.60L172.33,180.40" stroke="#000" stroke-width="1.4" fill="none"/>
<rect x="218.85" y="189.60" width="6.80" height="6.80" fill="#888" fill-opacity="0.7"/><path d="M218.85,189.60L225.65,196.40M225.65,189.60L218.85,196.40M222.25,189.60L222.25,196.40" stroke="#000" stroke-width="1.4" fill="none"/>
<rect x="268.76" y="168.80" width="6.80" height="6.80" fill="#888" fill-opacity="0.7"/><path d="M268.76,168.80L275.56,175.60M275.56,168.80L268.76,175.60M272.16,168.80L272.16,175.60" stroke="#000" stroke-width="1.4" fill="none"/>
<rect x="318.68" y="193.30" width="6.80" height="6.80" fill="#888" fill-opacity="0.7"/><path d="M318.68,193.30L325.48,200.10M325.48,193.30L318.68,200.10M322.08,193.30L322.08,200.10" stroke="#000" stroke-width="1.4" fill="none"/>
<rect x="368.60" y="160.50" width="6.80" height="6.80" fill="#888" fill-opacity="0.7"/><path d="M368.60,160.50L375.40,167.30M375.40,160.50L368.60,167.30M372.00,160.50L372.00,167.30" stroke="#000" stroke-width="1.4" fill="none"/>
<rect x="418.51" y="167.40" width="6.80" height="6.80" fill="#888" fill-opacity="0.7"/><path d="M418.51,167.40L425.31,174.20M425.31,167.40L418.51,174.20M421.91,167.40L421.91,174.20" stroke="#000" stroke-width="1.4" fill="none"/>
<rect x="468.43" y="157.80" width="6.80" height="6.80" fill="#888" fill-opacity="0.7"/><path d="M468.43,157.80L475.23,164.60M475.23,157.80L468.43,164.60M471.83,157.80L471.83,164.60" stroke="#000" stroke-width="1.4" fill="none"/>
<rect x="518.34" y="186.20" width="6.80" height="6.80" fill="#888" fill-opacity="0.7"/><path d="M518.34,186.20L525.14,193.00M525.14,186.20L518.34,193.00M521.74,186.20L521.74,193.00" stroke="#000" stroke-width="1.4" fill="none"/>
<rect x="568.26" y="201.50" width="6.80" height="6.80" fill="#888" fill-opacity="0.7"/><path d="M568.26,201.50L575.06,208.30M575.06,201.50L568.26,208.30M571.66,201.50L571.66,208.30" stroke="#000" stroke-width="1.4" fill="none"/>
<rect x="618.18" y="214.00" width="6.80" height="6.80" fill="#888" fill-opacity="0.7"/><path d="M618.18,214.00L624.98,220.80M624.98,214.00L618.18,220.80M621.58,214.00L621.58,220.80" stroke="#000" stroke-width="1.4" fill="none"/>
<rect x="668.09" y="234.40" width="6.80" height="6.80" fill="#888" fill-opacity="0.7"/><path d="M668.09,234.40L674.89,241.20M674.89,234.40L668.09,241.20M671.49,234.40L671.49,241.20" stroke="#000" stroke-width="1.4" fill="none"/>
<path d="M72.50,82.10 L76.10,88.90 L68.90,88.90Z" fill="#000"/>
<path d="M84.98,91.60 L88.58,98.40 L81.38,98.40Z" fill="#000"/>
<path d="M97.46,119.60 L101.06,126.40 L93.86,126.40Z" fill="#000"/>
<path d="M109.94,149.30 L113.54,156.10 L106.34,156.10Z" fill="#000"/>
<path d="M122.42,154.50 L126.02,161.30 L118.82,161.30Z" fill="#000"/>
<path d="M134.89,169.30 L138.49,176.10 L131.29,176.10Z" fill="#000"/>
<path d="M147.37,170.20 L150.97,177.00 L143.77,177.00Z" fill="#000"/>
<path d="M159.85,175.40 L163.45,182.20 L156.25,182.20Z" fill="#000"/>
<path d="M172.33,189.30 L175.93,196.10 L168.73,196.10Z" fill="#000"/>
<path d="M222.25,211.90 L225.85,218.70 L218.65,218.70Z" fill="#000"/>
<path d="M272.16,207.00 L275.76,213.80 L268.56,213.80Z" fill="#000"/>
<path d="M322.08,199.40 L325.68,206.20 L318.48,206.20Z" fill="#000"/>
<path d="M372.00,181.70 L375.60,188.50 L368.40,188.50Z" fill="#000"/>
<path d="M421.91,215.50 L425.51,222.30 L418.31,222.30Z" fill="#000"/>
<path d="M471.83,242.20 L475.43,249.00 L468.23,249.00Z" fill="#000"/>
<path d="M521.74,261.50 L525.34,268.30 L518.14,268.30Z" fill="#000"/>
<path d="M571.66,266.20 L575.26,273.00 L568.06,273.00Z" fill="#000"/>
<path d="M621.58,270.70 L625.18,277.50 L617.98,277.50Z" fill="#000"/>
<path d="M671.49,251.20 L675.09,258.00 L667.89,258.00Z" fill="#000"/>
<path d="M69.10,92.00L75.90,98.80M75.90,92.00L69.10,98.80" stroke="#000" stroke-width="1.3" fill="none"/>
<path d="M81.58,98.70L88.38,105.50M88.38,98.70L81.58,105.50" stroke="#000" stroke-width="1.3" fill="none"/>
<path d="M94.06,100.00L100.86,106.80M100.86,100.00L94.06,106.80" stroke="#000" stroke-width="1.3" fill="none"/>
<path d="M106.54,94.10L113.34,100.90M113.34,94.10L106.54,100.90" stroke="#000" stroke-width="1.3" fill="none"/>
<path d="M119.02,97.60L125.82,104.40M125.82,97.60L119.02,104.40" stroke="#000" stroke-width="1.3" fill="none"/>
<path d="M131.49,90.10L138.29,96.90M138.29,90.10L131.49,96.90" stroke="#000" stroke-width="1.3" fill="none"/>
<path d="M143.97,76.60L150.77,83.40M150.77,76.60L143.97,83.40" stroke="#000" stroke-width="1.3" fill="none"/>
<path d="M156.45,72.60L163.25,79.40M163.25,72.60L156.45,79.40" stroke="#000" stroke-width="1.3" fill="none"/>
<path d="M168.93,83.30L175.73,90.10M175.73,83.30L168.93,90.10" stroke="#000" stroke-width="1.3" fill="none"/>
<path d="M218.85,114.60L225.65,121.40M225.65,114.60L218.85,121.40" stroke="#000" stroke-width="1.3" fill="none"/>
<path d="M268.76,148.20L275.56,155.00M275.56,148.20L268.76,155.00" stroke="#000" stroke-width="1.3" fill="none"/>
<path d="M318.68,136.70L325.48,143.50M325.48,136.70L318.68,143.50" stroke="#000" stroke-width="1.3" fill="none"/>
<path d="M368.60,133.60L375.40,140.40M375.40,133.60L368.60,140.40" stroke="#000" stroke-width="1.3" fill="none"/>
<path d="M418.51,131.10L425.31,137.90M425.31,131.10L418.51,137.90" stroke="#000" stroke-width="1.3" fill="none"/>
<path d="M468.43,157.80L475.23,164.60M475.23,157.80L468.43,164.60" stroke="#000" stroke-width="1.3" fill="none"/>
<path d="M518.34,164.70L525.14,171.50M525.14,164.70L518.34,171.50" stroke="#000" stroke-width="1.3" fill="none"/>
<path d="M568.26,162.80L575.06,169.60M575.06,162.80L568.26,169.60" stroke="#000" stroke-width="1.3" fill="none"/>
<path d="M618.18,152.00L624.98,158.80M624.98,152.00L618.18,158.80" stroke="#000" stroke-width="1.3" fill="none"/>
<path d="M668.09,180.50L674.89,187.30M674.89,180.50L668.09,187.30" stroke="#000" stroke-width="1.3" fill="none"/>
<text x="63.4" y="407.49" text-anchor="end" class="tk">97.5</text>
<text x="63.4" y="371.90" text-anchor="end" class="tk">98.0</text>
<text x="63.4" y="336.31" text-anchor="end" class="tk">98.5</text>
<text x="63.4" y="300.72" text-anchor="end" class="tk">99.0</text>
<text x="63.4" y="265.13" text-anchor="end" class="tk">99.5</text>
<text x="63.4" y="229.54" text-anchor="end" class="tk">100.0</text>
<text x="63.4" y="193.95" text-anchor="end" class="tk">100.5</text>
<text x="63.4" y="158.36" text-anchor="end" class="tk">101.0</text>
<text x="63.4" y="122.77" text-anchor="end" class="tk">101.5</text>
<text x="63.4" y="87.18" text-anchor="end" class="tk">102.0</text>
<text x="63.4" y="51.59" text-anchor="end" class="tk">102.5</text>
<text x="63.4" y="16.00" text-anchor="end" class="tk">103.0</text>
<text x="72.50" y="425.0" text-anchor="middle" class="tk">0</text>
<text x="172.33" y="425.0" text-anchor="middle" class="tk">4</text>
<text x="272.16" y="425.0" text-anchor="middle" class="tk">8</text>
<text x="372.00" y="425.0" text-anchor="middle" class="tk">12</text>
<text x="471.83" y="425.0" text-anchor="middle" class="tk">16</text>
<text x="571.66" y="425.0" text-anchor="middle" class="tk">20</text>
<text x="671.49" y="425.0" text-anchor="middle" class="tk">24</text>
<text x="273.9" y="450.2" class="ti">Time Since First Dose (h)</text>
<text transform="translate(22.9,346.0) rotate(-90)" class="tiy">Average Temperature (°Fahrenheit)</text>
<line x1="92.5" y1="268.00" x2="124.5" y2="268.00" stroke="#dadada" stroke-width="1"/>
<circle cx="108.90" cy="268.00" r="2.8" fill="#fff" stroke="#000" stroke-width="1.2"/>
<text x="127.14" y="271.50" class="lg">Critically Ill, 100 mg IVIb</text>
<text x="127.14" y="284.10" class="lg">(n=14)</text>
<line x1="92.5" y1="296.00" x2="124.5" y2="296.00" stroke="#dadada" stroke-width="1"/>
<rect x="106.00" y="292.80" width="6.40" height="6.40" fill="#888" fill-opacity="0.7"/><path d="M106.00,292.80L112.40,299.20M112.40,292.80L106.00,299.20M109.20,292.80L109.20,299.20" stroke="#000" stroke-width="1.4" fill="none"/>
<text x="127.14" y="299.50" class="lg">Critically Ill, 200 mg IVIb</text>
<text x="127.14" y="312.10" class="lg">(n=12)</text>
<line x1="92.5" y1="324.60" x2="124.5" y2="324.60" stroke="#dadada" stroke-width="1"/>
<path d="M109.20,321.30 L112.80,328.10 L105.60,328.10Z" fill="#000"/>
<text x="127.14" y="328.10" class="lg">Critically Ill, 400 mg IVIb</text>
<text x="127.14" y="340.70" class="lg">(n=14)</text>
<line x1="92.5" y1="352.60" x2="124.5" y2="352.60" stroke="#dadada" stroke-width="1"/>
<path d="M106.00,349.40L112.40,355.80M112.40,349.40L106.00,355.80" stroke="#000" stroke-width="1.3" fill="none"/>
<text x="127.14" y="356.10" class="lg">Critically Ill, Placebo</text>
<text x="127.14" y="368.70" class="lg">(n=13)</text>
<line x1="93" y1="380.80" x2="124" y2="380.80" stroke="#dcdcdc" stroke-width="1" stroke-dasharray="3.5,2.3"/>
<text x="127.14" y="384.30" class="lg">101.0 degrees F</text>
</svg>
</body></html>
